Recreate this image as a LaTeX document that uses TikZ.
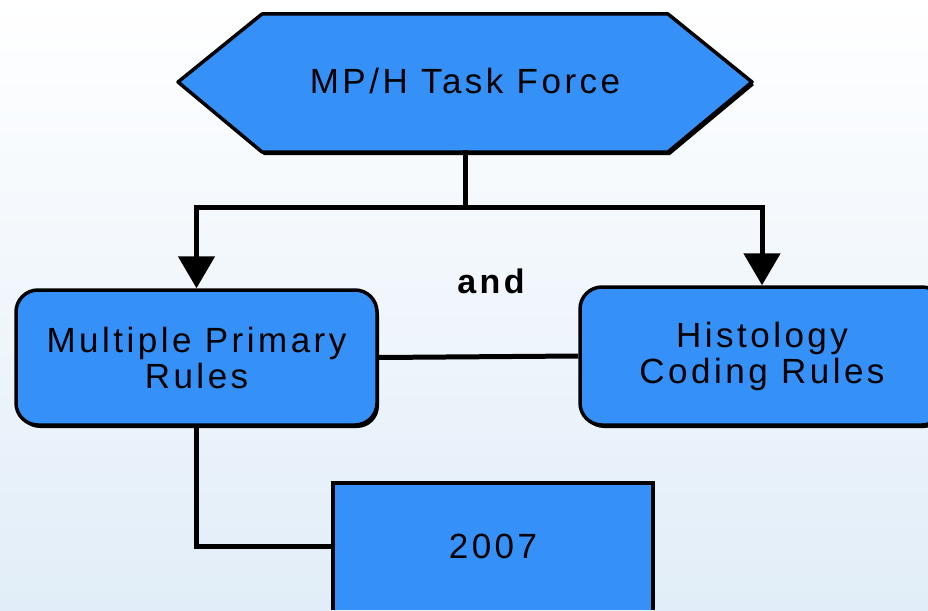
\documentclass[tikz,border=0pt]{standalone}
\usepackage{fontspec}
\newfontfamily\diag[LetterSpace=10]{Liberation Sans}
\usetikzlibrary{arrows.meta,shadows}
\definecolor{boxblue}{RGB}{53,145,247}
\definecolor{bgbot}{RGB}{225,237,248}
\begin{document}
\begin{tikzpicture}[x=1pt,y=-1pt,
  conn/.style={line width=5pt,black},
  arr/.style={conn,-{Triangle[width=36pt,length=32pt]}},
  rbox/.style={draw=black,line width=3.5pt,fill=boxblue,rounded corners=22pt,
    minimum width=361pt,minimum height=135pt,align=center,
    font=\diag\fontsize{35}{36}\selectfont,
    drop shadow={shadow xshift=2pt,shadow yshift=-3pt,opacity=1,fill=black}},
  lbl/.style={font=\diag\fontsize{35}{36}\selectfont,align=center}
]
\shade[top color=white,bottom color=bgbot] (0,0) rectangle (928,610);
\useasboundingbox (0,0) rectangle (928,610);
% hexagon
\begin{scope}[shift={(2,3)}]
\fill[black] (178,82) -- (262,14) -- (668,14) -- (752,82) -- (668,152) -- (262,152) -- cycle;
\end{scope}
\filldraw[fill=boxblue,draw=black,line width=3.5pt,line join=round]
  (178,82) -- (262,14) -- (668,14) -- (752,82) -- (668,152) -- (262,152) -- cycle;
\node[lbl,inner sep=0,minimum width=574pt,minimum height=138pt] (tf) at (465,81) {MP/H Task Force};
% boxes
\node[rbox] (lb) at (196.5,357.5) {Multiple Primary\\Rules};
\node[rbox,minimum width=364pt,minimum height=138pt] (rb) at (762,356) {Histology\\Coding Rules};
\node[lbl,font=\diag\bfseries\fontsize{34}{36}\selectfont] (and) at (491,281) {and};
\node[fill=boxblue,inner sep=0,minimum width=320pt,minimum height=127pt,lbl] (yr) at (493,546.5) {2007};
\draw[line width=3.5pt] (yr.south west) -- (yr.north west) -- (yr.north east) -- (yr.south east);
% connectors
\coordinate (jc) at (465,207);
\draw[conn] (tf.south) -- (jc);
\draw[arr] (jc) -| (lb.north);
\draw[arr] (jc) -| (rb.north);
\draw[conn] (lb.east) -- (rb.west);
\draw[conn] (lb.south) |- (yr.west);
\end{tikzpicture}
\end{document}
